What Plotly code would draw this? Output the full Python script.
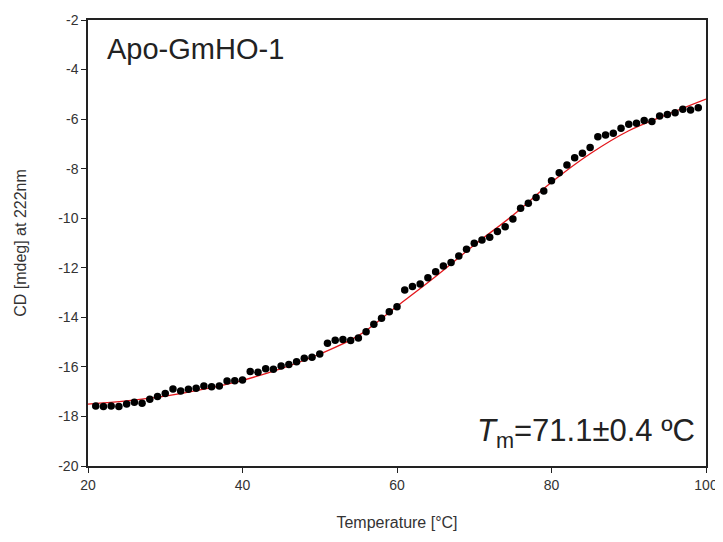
import plotly.graph_objects as go

temps = list(range(21, 100))
cd_signal = [
    -17.58, -17.60, -17.58, -17.60, -17.50, -17.43, -17.47, -17.31, -17.20, -17.07,
    -16.89, -16.97, -16.90, -16.86, -16.77, -16.80, -16.77, -16.57, -16.56, -16.53,
    -16.19, -16.22, -16.08, -16.10, -15.96, -15.90, -15.79, -15.65, -15.61, -15.48,
    -15.05, -14.92, -14.89, -14.93, -14.83, -14.58, -14.28, -14.04, -13.77, -13.57,
    -12.90, -12.76, -12.65, -12.40, -12.16, -11.93, -11.79, -11.52, -11.25, -11.01,
    -10.88, -10.77, -10.54, -10.34, -10.03, -9.60, -9.40, -9.16, -8.90, -8.49,
    -8.16, -7.85, -7.56, -7.38, -7.15, -6.71, -6.64, -6.57, -6.37, -6.21,
    -6.17, -6.06, -6.10, -5.87, -5.81, -5.74, -5.60, -5.63, -5.54,
]

fit_temps = [20, 25, 30, 35, 40, 45, 50, 55, 60, 65, 70, 75, 80, 85, 90, 95, 100]
fit_signal = [-17.50, -17.37, -17.18, -16.90, -16.54, -16.07, -15.48, -14.74, -13.55,
              -12.35, -11.08, -9.88, -8.55, -7.40, -6.47, -5.81, -5.19]

x_ticks = [20, 40, 60, 80, 100]
y_ticks = list(range(-20, -1, 2))
y_tick_labels = [str(v) for v in y_ticks]

fig = go.Figure()
fig.add_trace(go.Scatter(x=fit_temps, y=fit_signal, mode="lines",
                         line=dict(color="#e3161b", width=1.3, shape="spline", smoothing=1.0),
                         hoverinfo="skip"))
fig.add_trace(go.Scatter(x=temps, y=cd_signal, mode="markers",
                         marker=dict(color="black", size=7.5, line=dict(width=0))))

axis_common = dict(showline=True, linecolor="#222", linewidth=1.5, mirror=True,
                   ticks="outside", ticklen=5, tickwidth=1, tickcolor="#222",
                   showgrid=False, zeroline=False, automargin=False,
                   tickfont=dict(family="Liberation Sans, Arial", size=14, color="#333"))

fig.update_layout(
    width=715, height=534,
    margin=dict(l=80, r=17, t=12, b=76),
    paper_bgcolor="white", plot_bgcolor="white",
    showlegend=False,
    font=dict(family="Liberation Sans, Arial", color="#222"),
    xaxis=dict(range=[20, 100], tickvals=x_ticks,
               title=dict(text="Temperature [°C]", font=dict(size=16, color="#333"), standoff=25),
               **axis_common),
    yaxis=dict(range=[-20, -2], tickvals=y_ticks, ticktext=y_tick_labels,
               title=dict(text="CD [mdeg] at 222nm", font=dict(size=16, color="#333"), standoff=28),
               **axis_common),
    annotations=[
        dict(text="Apo-GmHO-1", x=0.028, y=0.935, xref="paper", yref="paper",
             xanchor="left", yanchor="middle", showarrow=False,
             font=dict(size=29, color="#222")),
        dict(text="<i>T</i><sub>m</sub>=71.1±0.4 ºC", x=0.985, y=0.025, xref="paper", yref="paper",
             xanchor="right", yanchor="bottom", showarrow=False,
             font=dict(size=31, color="#222")),
    ],
)

fig.write_html("out.html")
